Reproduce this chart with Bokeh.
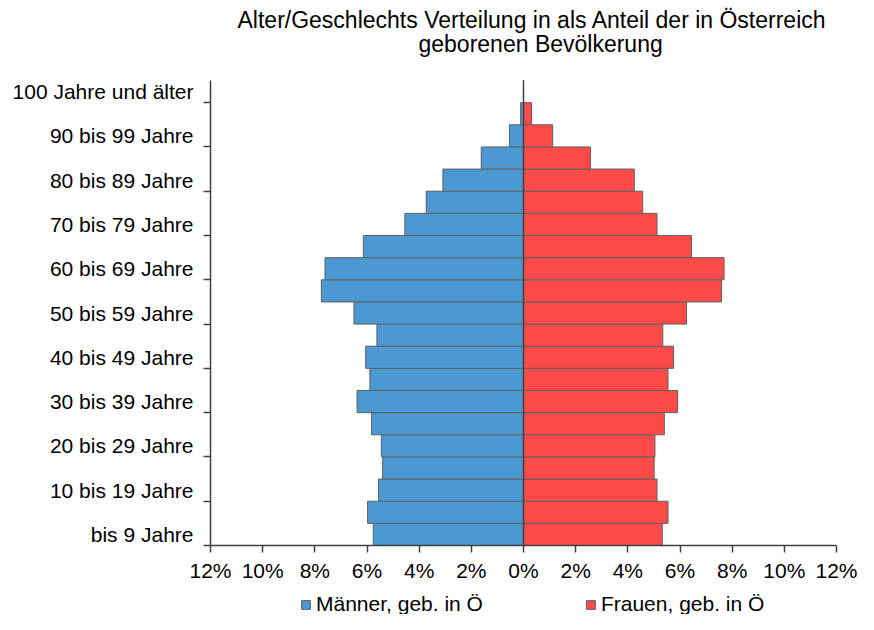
from bokeh.plotting import figure
from bokeh.models import (ColumnDataSource, FixedTicker, Legend, LegendItem,
                          Label, Range1d)
from bokeh.embed import file_html
from bokeh.resources import INLINE

# ---- data -------------------------------------------------------------
age_groups = ["0-4", "5-9", "10-14", "15-19", "20-24", "25-29", "30-34",
              "35-39", "40-44", "45-49", "50-54", "55-59", "60-64", "65-69",
              "70-74", "75-79", "80-84", "85-89", "90-94", "95-99", "100+"]
men_pct = [5.76, 5.98, 5.56, 5.40, 5.45, 5.83, 6.38, 5.89, 6.05, 5.62, 6.50,
           7.75, 7.61, 6.14, 4.55, 3.73, 3.09, 1.62, 0.54, 0.11, 0.0]
women_pct = [5.32, 5.54, 5.12, 5.01, 5.04, 5.40, 5.91, 5.54, 5.75, 5.34, 6.25,
             7.59, 7.69, 6.44, 5.12, 4.57, 4.25, 2.57, 1.12, 0.31, 0.0]
y_tick_labels = ["bis 9 Jahre", "10 bis 19 Jahre", "20 bis 29 Jahre",
                 "30 bis 39 Jahre", "40 bis 49 Jahre", "50 bis 59 Jahre",
                 "60 bis 69 Jahre", "70 bis 79 Jahre", "80 bis 89 Jahre",
                 "90 bis 99 Jahre", "100 Jahre und älter"]
x_ticks = [-12, -10, -8, -6, -4, -2, 0, 2, 4, 6, 8, 10, 12]
x_tick_labels = ["12%", "10%", "8%", "6%", "4%", "2%", "0%",
                 "2%", "4%", "6%", "8%", "10%", "12%"]
series_names = ["Männer, geb. in Ö", "Frauen, geb. in Ö"]
title_lines = ["Alter/Geschlechts Verteilung in als Anteil der in Österreich",
               "geborenen Bevölkerung"]

# ---- layout / styles (pixels on the canvas) ---------------------------
W, H = 858, 614
PX_L, PX_R, PX_T, PX_B = 210, 836, 80, 545      # plotting area
FONT = "Liberation Sans"
BLUE = "#4B98D3"
RED = "#FF4A4A"
EDGE = "#606060"
AXIS = "#404040"

n = len(age_groups)
X_MIN, X_MAX = x_ticks[0], x_ticks[-1]
ux = (PX_R - PX_L) / (X_MAX - X_MIN)
uy = (PX_B - PX_T) / n
x_start = X_MIN - PX_L / ux
x_end = X_MAX + (W - PX_R) / ux
y_lo, y_hi = -0.5, n - 0.5
y_start = y_lo - (H - PX_B) / uy
y_end = y_hi + PX_T / uy

ypos = list(range(n))
src = ColumnDataSource(dict(
    y=ypos,
    age=age_groups,
    men_left=[-v for v in men_pct],
    zero=[0.0] * n,
    women=women_pct,
))

p = figure(width=W, height=H, x_range=Range1d(x_start, x_end),
           y_range=Range1d(y_start, y_end), output_backend="svg",
           toolbar_location=None, title=None,
           min_border_left=0, min_border_right=0,
           min_border_top=0, min_border_bottom=0)
p.outline_line_color = None
p.xgrid.visible = False
p.ygrid.visible = False
p.background_fill_color = "white"
p.border_fill_color = "white"

r_men = p.hbar(y="y", left="men_left", right="zero", height=1.0, source=src,
               fill_color=BLUE, line_color=EDGE, line_width=1)
r_women = p.hbar(y="y", left="zero", right="women", height=1.0, source=src,
                 fill_color=RED, line_color=EDGE, line_width=1)

# zero line across the category span
p.segment(x0=[0], y0=[y_lo], x1=[0], y1=[y_hi], line_color=AXIS,
          line_width=1.5)

# x axis (fixed at the bottom of the category span)
xa = p.xaxis[0]
xa.fixed_location = y_lo
xa.bounds = (X_MIN, X_MAX)
xa.ticker = FixedTicker(ticks=x_ticks, minor_ticks=[])
xa.major_label_overrides = {t: l for t, l in zip(x_ticks, x_tick_labels)}
xa.major_tick_out = 7
xa.major_tick_in = 0
xa.major_label_standoff = 6
xa.axis_line_color = AXIS
xa.axis_line_width = 1.5
xa.major_tick_line_color = AXIS
xa.major_tick_line_width = 1.5
xa.major_label_text_font = FONT
xa.major_label_text_font_size = "21px"
xa.major_label_text_color = "black"

# y axis (fixed at the left end of the value scale)
ya = p.yaxis[0]
ya.fixed_location = X_MIN
ya.bounds = (y_lo, y_hi)
label_pos = ypos[::2]
ya.ticker = FixedTicker(ticks=label_pos,
                        minor_ticks=[v - 0.5 for v in ypos[::2]])
ya.major_label_overrides = {t: l for t, l in zip(label_pos, y_tick_labels)}
ya.major_tick_out = 0
ya.major_tick_in = 0
ya.minor_tick_out = 7
ya.minor_tick_in = 0
ya.minor_tick_line_color = AXIS
ya.minor_tick_line_width = 1.5
ya.major_label_standoff = 10
ya.axis_line_color = AXIS
ya.axis_line_width = 1.5
ya.major_label_text_font = FONT
ya.major_label_text_font_size = "21px"
ya.major_label_text_color = "black"

# title (two lines, positions in pixels from the top-left)
for txt, px_x, px_base in [(title_lines[0], 237, 19), (title_lines[1], 418, 43)]:
    p.add_layout(Label(x=x_start + px_x / ux, y=y_end - px_base / uy,
                       text=txt, text_font=FONT, text_font_size="23px",
                       text_color="black", text_align="left",
                       text_baseline="alphabetic"))

legend = Legend(items=[LegendItem(label=series_names[0], renderers=[r_men]),
                       LegendItem(label=series_names[1], renderers=[r_women])],
                location=(300, -2), orientation="horizontal",
                glyph_width=11, glyph_height=11, label_standoff=5,
                spacing=102, padding=0, margin=0,
                border_line_color=None, background_fill_alpha=0,
                label_text_font=FONT, label_text_font_size="21px",
                label_text_color="black")
p.add_layout(legend)

open("out.html", "w").write(file_html(p, INLINE))
